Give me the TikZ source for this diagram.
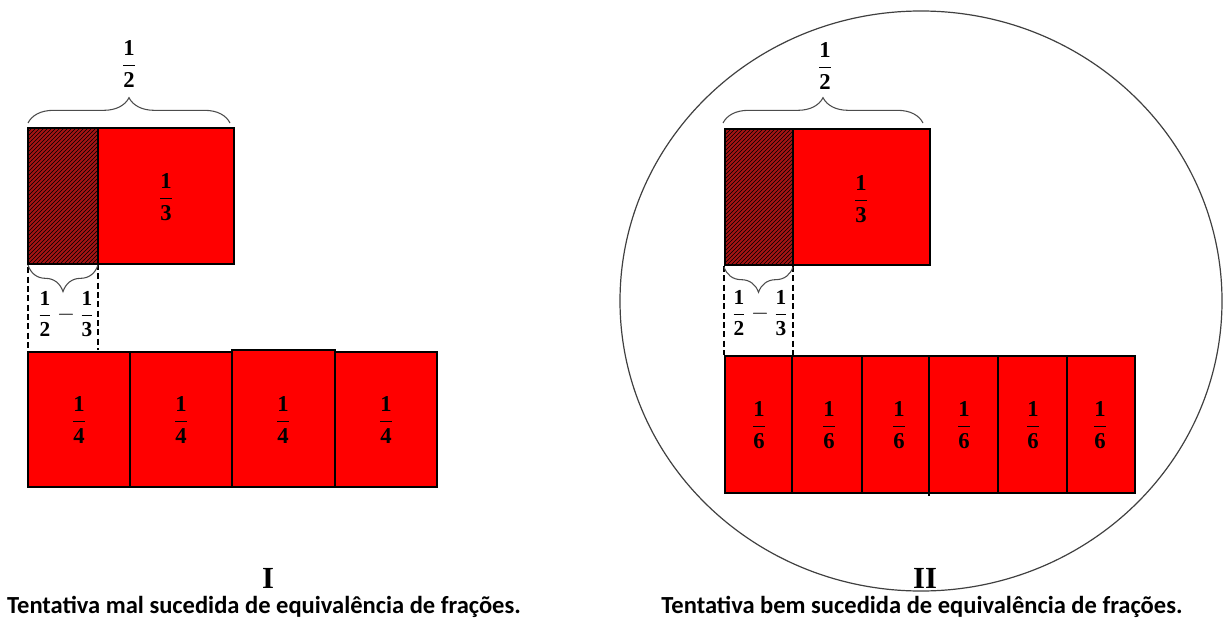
\documentclass[tikz,border=0pt]{standalone}
\usepackage{amsmath}
\usepackage{fontspec}
\newfontfamily\capfont{Carlito}
\newfontfamily\digfont{Liberation Serif}
\newcommand{\dg}[1]{\text{\digfont\bfseries #1}}
\usetikzlibrary{decorations.pathreplacing,patterns}
\definecolor{barred}{RGB}{255,0,0}
\definecolor{hatchred}{RGB}{165,20,20}
\begin{document}
\begin{tikzpicture}[x=0.75pt,y=-0.75pt,
  cell/.style={draw=black,line width=2pt,fill=barred},
  frac/.style={font=\fontsize{17}{20}\selectfont,inner sep=0pt},
  smallfrac/.style={font=\fontsize{16}{19}\selectfont,inner sep=0pt},
  bracestyle/.style={draw=black!70,line width=0.8pt,decorate,decoration={brace,amplitude=#1}},
  dashline/.style={draw=black,line width=1.9pt,dash pattern=on 4.5pt off 2.5pt},
  roman/.style={font=\digfont\bfseries\fontsize{23}{26}\selectfont,inner sep=0pt},
  caption/.style={font=\capfont\bfseries\fontsize{18.4}{21}\selectfont,inner sep=0pt}]
\useasboundingbox (0,0) rectangle (1230,624);

% ================= Panel I =================
% top bar
\fill[hatchred] (28,128) rectangle (98,264);
\fill[pattern=north east lines,pattern color=black] (28,128) rectangle (98,264);
\draw[black,line width=2pt] (28,128) rectangle (98,264);
\draw[cell] (98,128) rectangle (234,264);
\node[frac] (Ia) at (166,197) {$\dfrac{\dg{1}}{\dg{3}}$};
% top brace
\coordinate (Ib1) at (28,123);
\coordinate (Ib2) at (230,123);
\draw[bracestyle=19pt] (Ib1) -- (Ib2);
\node[frac] (Ihalf) at (129,64) {$\dfrac{\dg{1}}{\dg{2}}$};
% dashed box
\coordinate (Id1) at (28,258);
\coordinate (Id2) at (28,350);
\coordinate (Id3) at (98,264);
\coordinate (Id4) at (98,350);
\draw[dashline] (Id1) -- (Id2);
\draw[dashline] (Id3) -- (Id4);
% lower brace
\coordinate (Ic1) at (98,265);
\coordinate (Ic2) at (28,265);
\draw[bracestyle=20pt] (Ic1) -- (Ic2);
\node[smallfrac] (Idiff) at (66,314) {$\dfrac{\dg{1}}{\dg{2}}-\dfrac{\dg{1}}{\dg{3}}$};
% bottom row
\draw[cell] (28,352) rectangle (130,487);
\draw[cell] (130,352) rectangle (232,487);
\draw[cell] (232,350) rectangle (335,487);
\draw[cell] (335,352) rectangle (437,487);
\foreach \cx [count=\i] in {79,181,283,386}
  \node[frac] (Iq\i) at (\cx,420) {$\dfrac{\dg{1}}{\dg{4}}$};
% labels
\node[roman] (Inum) at (268,578) {I};
\node[caption] (Icap) at (264,607) {Tentativa mal sucedida de equivalência de frações.};

% ================= Panel II =================
\draw[black!75,line width=0.9pt] (921,301) ellipse [x radius=225.75pt,y radius=217.5pt];
% top bar
\fill[hatchred] (725,129) rectangle (793,265);
\fill[pattern=north east lines,pattern color=black] (725,129) rectangle (793,265);
\draw[black,line width=2pt] (725,129) rectangle (793,265);
\draw[cell] (793,129) rectangle (930,265);
\node[frac] (IIa) at (861,199) {$\dfrac{\dg{1}}{\dg{3}}$};
% top brace
\coordinate (IIb1) at (723,123);
\coordinate (IIb2) at (923,123);
\draw[bracestyle=19pt] (IIb1) -- (IIb2);
\node[frac] (IIhalf) at (825,66) {$\dfrac{\dg{1}}{\dg{2}}$};
% dashed box
\coordinate (IId1) at (724,266);
\coordinate (IId2) at (724,355);
\coordinate (IId3) at (793,266);
\coordinate (IId4) at (793,355);
\draw[dashline] (IId1) -- (IId2);
\draw[dashline] (IId3) -- (IId4);
% lower brace
\coordinate (IIc1) at (793,267);
\coordinate (IIc2) at (724,267);
\draw[bracestyle=19pt] (IIc1) -- (IIc2);
\node[smallfrac] (IIdiff) at (760,313) {$\dfrac{\dg{1}}{\dg{2}}-\dfrac{\dg{1}}{\dg{3}}$};
% bottom row
\draw[cell] (725,356) rectangle (792,493);
\draw[cell] (792,356) rectangle (862,493);
\draw[cell] (862,356) rectangle (929,493);
\draw[cell] (929,356) rectangle (998,493);
\draw[cell] (998,356) rectangle (1067,493);
\draw[cell] (1067,356) rectangle (1135,493);
\draw[black,line width=2pt] (929,493) -- (929,496);
\foreach \cx [count=\i] in {759,829,899,964,1033,1100}
  \node[frac] (IIs\i) at (\cx,425) {$\dfrac{\dg{1}}{\dg{6}}$};
% labels
\node[roman] (IInum) at (925,578) {II};
\node[caption] (IIcap) at (922,607) {Tentativa bem sucedida de equivalência de frações.};
\end{tikzpicture}
\end{document}
